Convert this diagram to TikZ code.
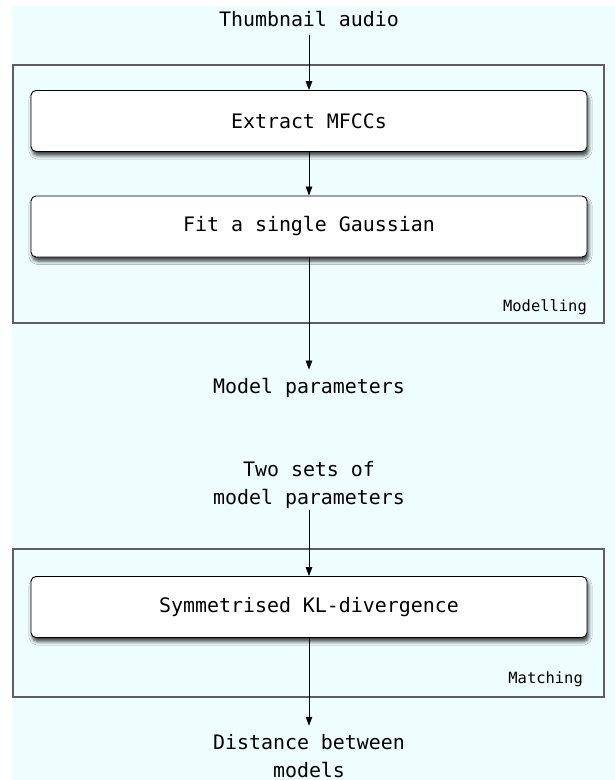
\documentclass[tikz,border=0pt]{standalone}
\usepackage{fontspec}
\newfontfamily\monofont{DejaVu Sans Mono}
\usetikzlibrary{arrows.meta,shadows.blur}
\definecolor{pagecyan}{RGB}{238,253,254}
\definecolor{framegray}{RGB}{95,95,95}
\begin{document}
\begin{tikzpicture}[x=1bp,y=-1bp,
  lbl/.style={font=\monofont\fontsize{20}{28}\selectfont, align=center, inner sep=8bp, anchor=base},
  stepbox/.style={draw=black, line width=0.9bp, rounded corners=5bp, fill=white,
    minimum width=556bp, minimum height=61bp, inner sep=0pt,
    font=\monofont\fontsize{20}{24}\selectfont,
    blur shadow={shadow xshift=1.5bp, shadow yshift=-4bp, shadow blur radius=3.5bp, shadow opacity=75}},
  groupframe/.style={draw=framegray, line width=1.3bp},
  grouplabel/.style={font=\monofont\fontsize{15.5}{18}\selectfont, anchor=base east, inner sep=0pt},
  arr/.style={-{Triangle[length=9bp,width=6.5bp]}, line width=0.8bp, draw=black}]
  % canvas
  \useasboundingbox (0,0) rectangle (615,780);
  \fill[white] (0,0) rectangle (615,780);
  \fill[pagecyan] (12,6) rectangle (615,780);

  % group frames
  \draw[groupframe] (13,65) rectangle (604,323);
  \draw[groupframe] (13,549) rectangle (604,697);
  \node[grouplabel] (modlbl) at (587,311) {Modelling};
  \node[grouplabel] (matlbl) at (583,683) {Matching};

  % processing steps
  \node[stepbox] (extract) at (309,121) {Extract MFCCs};
  \node[stepbox] (fit) at (309,226.5) {Fit a single Gaussian};
  \node[stepbox] (kl) at (309,607) {Symmetrised KL-divergence};

  % inputs and outputs (a multi-line node sits on its last baseline)
  \node[lbl] (thumb) at (309,27) {Thumbnail audio};
  \node[lbl] (modelp) at (309,393) {Model parameters};
  \node[lbl] (twosets) at (309,504) {Two sets of\\model parameters};
  \node[lbl] (dist) at (309,777) {Distance between\\models};

  % flow
  \draw[arr] (thumb) -- (extract);
  \draw[arr] (extract) -- (fit);
  \draw[arr] (fit) -- (modelp);
  \draw[arr, shorten <=-6bp] (twosets) -- (kl);
  \draw[arr] (kl) -- (dist);
\end{tikzpicture}
\end{document}
